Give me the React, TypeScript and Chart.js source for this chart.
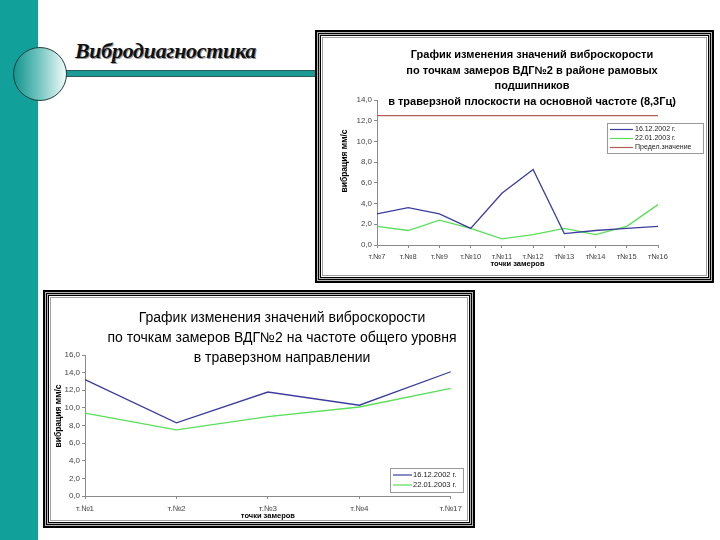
import React, { useEffect, useRef } from "react";
import { Chart, registerables } from "chart.js";

Chart.register(...registerables);

// ---------- data ----------
const slideHeading = "Вибродиагностика";

const topTitleLines = [
  "График изменения значений виброскорости",
  "по точкам замеров ВДГ№2 в районе рамовых",
  "подшипников",
  "в траверзной плоскости на основной частоте (8,3Гц)",
];
const topCategories = ["т.№7", "т.№8", "т.№9", "т.№10", "т.№11", "т.№12", "т№13", "т№14", "т№15", "т№16"];
const topSeries2002 = [3.0, 3.6, 3.0, 1.6, 5.0, 7.3, 1.1, 1.4, 1.6, 1.8];
const topSeries2003 = [1.8, 1.4, 2.4, 1.6, 0.6, 1.0, 1.6, 1.0, 1.8, 3.9];
const topLimit = [12.5, 12.5, 12.5, 12.5, 12.5, 12.5, 12.5, 12.5, 12.5, 12.5];
const topYMax = 14;

const bottomTitleLines = [
  "График изменения значений виброскорости",
  "по точкам замеров ВДГ№2 на частоте общего уровня",
  "в траверзном направлении",
];
const bottomCategories = ["т.№1", "т.№2", "т.№3", "т.№4", "т.№17"];
const bottomSeries2002 = [13.2, 8.3, 11.8, 10.3, 14.1];
const bottomSeries2003 = [9.4, 7.5, 9.0, 10.1, 12.2];
const bottomYMax = 16;

const yStep = 2;
const seriesLabels = ["16.12.2002 г.", "22.01.2003 г.", "Предел.значение"];
const xAxisTitle = "точки замеров";
const yAxisTitle = "вибрация мм/с";

// ---------- styles ----------
const FONT = "'Liberation Sans', Arial, sans-serif";
const BLUE = "#3d3d9e";
const GREEN = "#5ade5a";
const RED = "#b35d5a";
const AXIS = "#8a8a8a";

const textPlugin = {
  id: "slideText",
  afterDraw(chart: any, _args: any, opts: any) {
    const ctx: CanvasRenderingContext2D = chart.ctx;
    ctx.save();
    // chart title
    ctx.fillStyle = "#000";
    ctx.textAlign = "center";
    ctx.textBaseline = "middle";
    ctx.font = opts.titleFont;
    (opts.title as string[]).forEach((t, i) => {
      ctx.fillText(t, opts.titleX, opts.titleY + i * opts.titleStep);
    });
    // y axis title
    ctx.save();
    ctx.translate(opts.yTitleX, opts.yTitleY);
    ctx.rotate(-Math.PI / 2);
    ctx.font = opts.yTitleFont;
    ctx.fillText(opts.yTitle, 0, 0);
    ctx.restore();
    // legend
    const lg = opts.legend;
    ctx.fillStyle = "#fff";
    ctx.fillRect(lg.x, lg.y, lg.w, lg.h);
    ctx.strokeStyle = "#9a9a9a";
    ctx.lineWidth = 1;
    ctx.strokeRect(lg.x + 0.5, lg.y + 0.5, lg.w, lg.h);
    ctx.font = lg.font;
    ctx.textAlign = "left";
    chart.data.datasets.forEach((ds: any, i: number) => {
      const cy = lg.y + lg.first + i * lg.row;
      ctx.strokeStyle = ds.borderColor;
      ctx.lineWidth = 1.2;
      ctx.beginPath();
      ctx.moveTo(lg.x + 3, cy + 0.5);
      ctx.lineTo(lg.x + 3 + lg.sample, cy + 0.5);
      ctx.stroke();
      ctx.fillStyle = "#222";
      ctx.fillText(ds.label, lg.x + lg.textX, cy);
    });
    ctx.restore();
  },
};

function fmt(v: any) {
  return Number(v).toFixed(1).replace(".", ",");
}

function makeScales(cfg: {
  yMax: number;
  yWidth: number;
  xHeight: number;
  tickFont: number;
  tickPadX: number;
  titleFont: number;
  titlePadBottom: number;
}) {
  return {
    x: {
      offset: false,
      grid: { drawOnChartArea: false, tickLength: 3, color: AXIS },
      border: { color: AXIS },
      ticks: {
        font: { family: FONT, size: cfg.tickFont },
        color: "#444",
        padding: cfg.tickPadX,
        maxRotation: 0,
        autoSkip: false,
      },
      title: {
        display: true,
        text: xAxisTitle,
        font: { family: FONT, size: cfg.titleFont, weight: "bold", lineHeight: 1 },
        color: "#000",
        padding: { top: 0, bottom: cfg.titlePadBottom },
      },
      afterFit: (s: any) => {
        s.height = cfg.xHeight;
      },
    },
    y: {
      min: 0,
      max: cfg.yMax,
      grid: { drawOnChartArea: false, tickLength: 3, color: AXIS },
      border: { color: AXIS },
      ticks: {
        stepSize: yStep,
        callback: (v: any) => fmt(v),
        font: { family: FONT, size: 8 },
        color: "#444",
        padding: 2,
      },
      afterFit: (s: any) => {
        s.width = cfg.yWidth;
      },
    },
  };
}

function lineDs(label: string, data: number[], color: string) {
  return {
    label,
    data,
    borderColor: color,
    backgroundColor: color,
    borderWidth: 1.3,
    pointRadius: 0,
    fill: false,
    tension: 0,
  };
}

function TopChart() {
  const ref = useRef<HTMLCanvasElement>(null);
  useEffect(() => {
    const chart = new Chart(ref.current!, {
      type: "line",
      data: {
        labels: topCategories,
        datasets: [
          lineDs(seriesLabels[0], topSeries2002, BLUE),
          lineDs(seriesLabels[1], topSeries2003, GREEN),
          lineDs(seriesLabels[2], topLimit, RED),
        ],
      },
      options: {
        animation: false,
        responsive: false,
        devicePixelRatio: 1,
        layout: { padding: { left: 0, top: 62, right: 48, bottom: 0 } },
        plugins: {
          legend: { display: false },
          title: { display: false },
          tooltip: { enabled: false },
          slideText: {
            title: topTitleLines,
            titleFont: `bold 11px ${FONT}`,
            titleX: 209,
            titleY: 17,
            titleStep: 15.5,
            yTitle: yAxisTitle,
            yTitleFont: `bold 8.5px ${FONT}`,
            yTitleX: 22,
            yTitleY: 123,
            legend: { x: 284, y: 85, w: 96, h: 30, first: 6, row: 9, sample: 23, textX: 28, font: `7px ${FONT}` },
          },
        } as any,
        scales: makeScales({
          yMax: topYMax,
          yWidth: 54,
          xHeight: 30,
          tickFont: 7.5,
          tickPadX: 4,
          titleFont: 7.5,
          titlePadBottom: 7,
        }) as any,
      },
      plugins: [textPlugin],
    });
    return () => chart.destroy();
  }, []);
  return <canvas ref={ref} width={383} height={237} style={{ display: "block", width: 383, height: 237 }} />;
}

function BottomChart() {
  const ref = useRef<HTMLCanvasElement>(null);
  useEffect(() => {
    const chart = new Chart(ref.current!, {
      type: "line",
      data: {
        labels: bottomCategories,
        datasets: [
          lineDs(seriesLabels[0], bottomSeries2002, BLUE),
          lineDs(seriesLabels[1], bottomSeries2003, GREEN),
        ],
      },
      options: {
        animation: false,
        responsive: false,
        devicePixelRatio: 1,
        layout: { padding: { left: 0, top: 57, right: 10, bottom: 0 } },
        plugins: {
          legend: { display: false },
          title: { display: false },
          tooltip: { enabled: false },
          slideText: {
            title: bottomTitleLines,
            titleFont: `14px ${FONT}`,
            titleX: 231,
            titleY: 20.5,
            titleStep: 20,
            yTitle: yAxisTitle,
            yTitleFont: `bold 8.5px ${FONT}`,
            yTitleX: 8,
            yTitleY: 118,
            legend: { x: 339, y: 170, w: 73, h: 24, first: 6.5, row: 10, sample: 19, textX: 23, font: `7.5px ${FONT}` },
          },
        } as any,
        scales: makeScales({
          yMax: bottomYMax,
          yWidth: 34,
          xHeight: 24,
          tickFont: 8,
          tickPadX: 5,
          titleFont: 7.5,
          titlePadBottom: 0,
        }) as any,
      },
      plugins: [textPlugin],
    });
    return () => chart.destroy();
  }, []);
  return <canvas ref={ref} width={416} height={222} style={{ display: "block", width: 416, height: 222 }} />;
}

const frameShadow =
  "0 0 0 1px #fff, 0 0 0 2px #000, 0 0 0 3px #b5b5b5, 0 0 0 4px #000, 0 0 0 5px #b5b5b5, 0 0 0 7px #000";

export default function App() {
  return (
    <div
      style={{
        position: "fixed",
        left: 0,
        top: 0,
        width: 720,
        height: 540,
        overflow: "hidden",
        background: "#fff",
      }}
    >
      {/* teal side band */}
      <div style={{ position: "absolute", left: 0, top: 0, width: 38, height: 540, background: "#12a09a" }} />
      {/* horizontal rule */}
      <div
        style={{
          position: "absolute",
          left: 60,
          top: 70,
          width: 256,
          height: 5,
          background: "#1c9a94",
          borderTop: "1px solid #2a5c59",
          borderBottom: "1px solid #2a5c59",
        }}
      />
      {/* circle */}
      <div
        style={{
          position: "absolute",
          left: 13,
          top: 47,
          width: 54,
          height: 54,
          boxSizing: "border-box",
          borderRadius: "50%",
          border: "1px solid #1f3f3d",
          background: "linear-gradient(90deg, #14958f 0%, #6cc2bd 45%, #f2fafa 100%)",
        }}
      />
      {/* heading */}
      <div
        style={{
          position: "absolute",
          left: 75,
          top: 40,
          font: "italic bold 22px 'Liberation Serif', 'Times New Roman', serif",
          lineHeight: "22px",
          letterSpacing: "-0.3px",
          color: "#111",
          textShadow: "1px 1px 0 #9a9a9a",
          whiteSpace: "nowrap",
        }}
      >
        {slideHeading}
      </div>
      {/* top chart frame */}
      <div
        style={{
          position: "absolute",
          left: 322,
          top: 37,
          width: 385,
          height: 239,
          boxSizing: "border-box",
          border: "1px solid #a0a0a0",
          background: "#fff",
          boxShadow: frameShadow,
        }}
      >
        <TopChart />
      </div>
      {/* bottom chart frame */}
      <div
        style={{
          position: "absolute",
          left: 50,
          top: 297,
          width: 418,
          height: 224,
          boxSizing: "border-box",
          border: "1px solid #a0a0a0",
          background: "#fff",
          boxShadow: frameShadow,
        }}
      >
        <BottomChart />
      </div>
    </div>
  );
}
